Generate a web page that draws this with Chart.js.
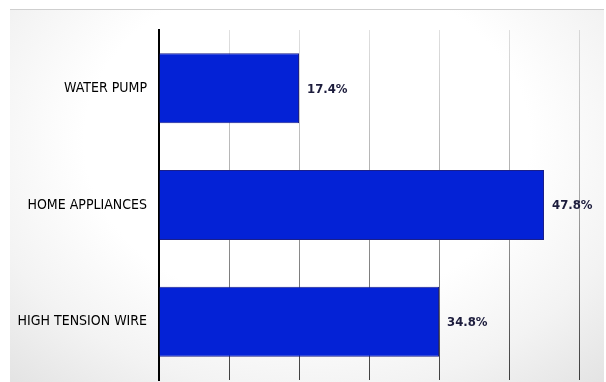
<!DOCTYPE html>
<html>
<head>
<meta charset="utf-8">
<script src="https://cdn.jsdelivr.net/npm/chart.js@4"></script>
<style>
  html, body { margin: 0; padding: 0; background: #fff; }
  #wrap { position: relative; width: 606px; height: 382px; overflow: hidden; }
  #panel {
    position: absolute; left: 10px; top: 9px; width: 594px; height: 373px;
    border-top: 1px solid #cfcfcf;
    background: radial-gradient(ellipse 75% 90% at 50% 35%, #ffffff 50%, #f3f3f3 75%, #e2e2e2 100%);
  }
  canvas { position: absolute; left: 0; top: 0; }
</style>
</head>
<body>
<div id="wrap">
  <div id="panel"></div>
  <canvas id="barChart" width="606" height="382"></canvas>
</div>
<script>
// Catégories et valeurs
const categories = ["WATER PUMP", "HOME APPLIANCES", "HIGH TENSION WIRE"];
const counts = [4, 11, 8];
const percentLabels = ["17.4%", "47.8%", "34.8%"];
const xTicks = [0, 2, 4, 6, 8, 10, 12];

const labelFont = '"DejaVu Sans Condensed", "Liberation Sans Narrow", Arial, sans-serif';

// Étiquettes de pourcentage à droite des barres
const valueLabels = {
    id: 'valueLabels',
    afterDatasetsDraw(chart) {
        const ctx = chart.ctx;
        const meta = chart.getDatasetMeta(0);
        ctx.save();
        ctx.font = 'bold 13px ' + labelFont;
        ctx.fillStyle = '#1c1c3c';
        ctx.textAlign = 'left';
        ctx.textBaseline = 'middle';
        meta.data.forEach((bar, i) => {
            ctx.fillText(percentLabels[i], bar.x + 8, bar.y + 1);
        });
        ctx.restore();
    }
};

// Lignes de grille en dégradé (claires en haut, foncées en bas)
function gridColor(context) {
    const chart = context.chart;
    const area = chart.chartArea;
    if (!area) return 'rgba(0,0,0,0.3)';
    const g = chart.ctx.createLinearGradient(0, area.top, 0, area.bottom);
    g.addColorStop(0, 'rgba(0,0,0,0.12)');
    g.addColorStop(0.5, 'rgba(0,0,0,0.35)');
    g.addColorStop(1, 'rgba(0,0,0,0.75)');
    return g;
}

const ctx = document.getElementById('barChart').getContext('2d');
const barChart = new Chart(ctx, {
    type: 'bar',
    data: {
        labels: categories,
        datasets: [{
            data: counts,
            backgroundColor: '#0422d6',
            borderColor: '#1a1f8a',
            borderWidth: 1,
            barPercentage: 0.6,
            categoryPercentage: 1
        }]
    },
    options: {
        indexAxis: 'y',
        responsive: false,
        animation: false,
        layout: { padding: { top: 30, bottom: 2, left: 0, right: 27 } },
        plugins: {
            legend: { display: false },
            tooltip: { enabled: false }
        },
        scales: {
            x: {
                min: 0,
                max: 12,
                z: 1,
                afterBuildTicks(scale) {
                    scale.ticks = xTicks.map(v => ({ value: v }));
                },
                afterFit(scale) { scale.height = 0; },
                ticks: { display: false },
                border: { display: false },
                grid: { color: gridColor, lineWidth: 1, drawTicks: false }
            },
            y: {
                afterFit(scale) {
                    scale.width = 159;
                    scale.paddingTop = 0;
                    scale.paddingBottom = 0;
                },
                grid: { display: false, drawTicks: false },
                border: { display: true, color: '#000', width: 2 },
                ticks: {
                    padding: 12,
                    color: '#000',
                    font: { family: labelFont, size: 14 }
                }
            }
        }
    },
    plugins: [valueLabels]
});
</script>
</body>
</html>
